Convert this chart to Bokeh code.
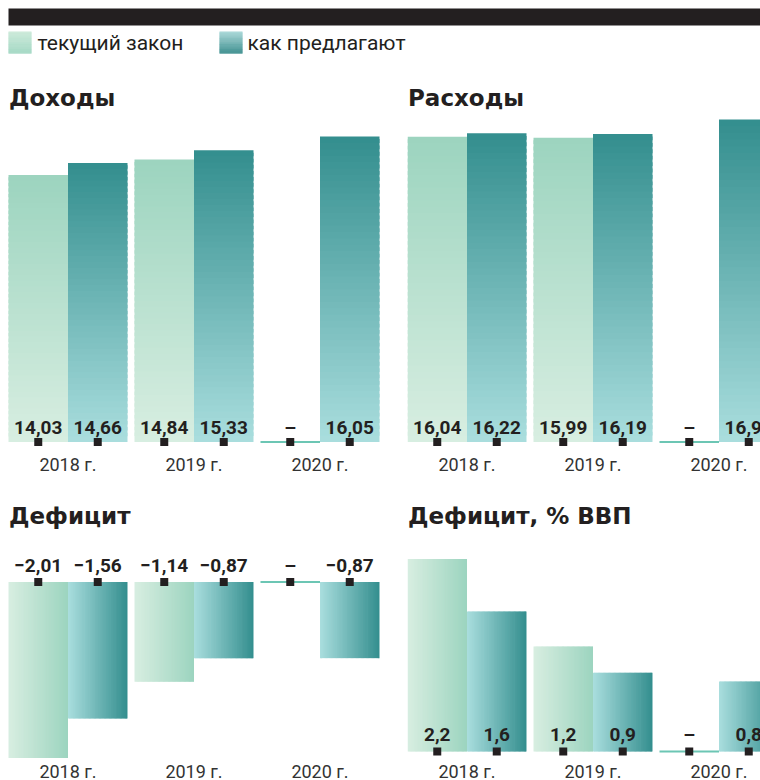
from bokeh.plotting import figure
from bokeh.models import Range1d
from bokeh.layouts import column, row
from bokeh.embed import file_html
from bokeh.resources import INLINE
from bokeh.core.properties import value

# ---------------- data ----------------
years = ["2018 г.", "2019 г.", "2020 г."]
legend_labels = ["текущий закон", "как предлагают"]
income_current = [14.03, 14.84, None]
income_proposed = [14.66, 15.33, 16.05]
spending_current = [16.04, 15.99, None]
spending_proposed = [16.22, 16.19, 16.95]
deficit_current = [-2.01, -1.14, None]
deficit_proposed = [-1.56, -0.87, -0.87]
deficit_gdp_current = [2.2, 1.2, None]
deficit_gdp_proposed = [1.6, 0.9, 0.8]

# ---------------- style ----------------
INK = "#231f20"
LIGHT = ("#d8eee1", "#9cd4bf")   # pale -> strong
DARK = ("#aadede", "#338e8e")
ZERO = "#6cc6b4"
N = 48
GROUP_PX = 126.0
HALF = 59.5 / GROUP_PX


def hex2rgb(c):
    c = c.lstrip("#")
    return tuple(int(c[i:i + 2], 16) for i in (0, 2, 4))


def mix(c0, c1, t):
    a, b = hex2rgb(c0), hex2rgb(c1)
    return "#%02x%02x%02x" % tuple(round(a[i] + (b[i] - a[i]) * t) for i in range(3))


def fmt(v, nd):
    if v is None:
        return "–"
    s = f"{abs(v):.{nd}f}".replace(".", ",")
    return ("−" + s) if v < 0 else s


def slices(lefts, vals, colors, orient):
    d = dict(left=[], right=[], bottom=[], top=[], color=[])
    for xl, v in zip(lefts, vals):
        if v is None:
            continue
        lo, hi = min(0.0, v), max(0.0, v)
        for k in range(N):
            t = (k + 0.5) / N
            e = min(k + 1.6, N) / N
            if orient == "v":
                a, b = v * k / N, v * e
                d["left"].append(xl); d["right"].append(xl + HALF)
                d["bottom"].append(min(a, b)); d["top"].append(max(a, b))
            else:
                d["left"].append(xl + HALF * k / N); d["right"].append(xl + HALF * e)
                d["bottom"].append(lo); d["top"].append(hi)
            d["color"].append(mix(colors[0], colors[1], t))
    return d


def panel(width, pad, height, zero_px, ppu, title, title_px, cur, prop, nd, orient,
          label_dy, year_dy):
    x0 = -HALF - pad / GROUP_PX
    x1 = x0 + width / GROUP_PX
    yt = zero_px / ppu
    yb = -(height - zero_px) / ppu
    p = figure(width=width, height=height, x_range=Range1d(x0, x1),
               y_range=Range1d(yb, yt), output_backend="svg",
               toolbar_location=None, min_border=0,
               x_axis_location=None, y_axis_location=None)
    p.outline_line_color = None
    p.grid.visible = False
    p.background_fill_color = "white"
    p.border_fill_color = "white"

    idx = list(range(len(years)))
    left_cur = [i - HALF for i in idx]
    left_prop = [float(i) for i in idx]
    p.quad(source=slices(left_cur, cur, LIGHT, orient), left="left", right="right",
           bottom="bottom", top="top", fill_color="color", line_color=None)
    p.quad(source=slices(left_prop, prop, DARK, orient), left="left", right="right",
           bottom="bottom", top="top", fill_color="color", line_color=None)

    miss = [i for i in idx if cur[i] is None]
    p.segment(x0=[i - HALF for i in miss], x1=[float(i) for i in miss],
              y0=[0] * len(miss), y1=[0] * len(miss), line_color=ZERO, line_width=2)

    cx = [i - HALF / 2 for i in idx] + [i + HALF / 2 for i in idx]
    labels = [fmt(v, nd) for v in cur] + [fmt(v, nd) for v in prop]
    p.text(x=cx, y=[0] * len(cx), text=labels, y_offset=label_dy,
           text_align="center", text_baseline="middle",
           text_font=value("Roboto"), text_font_style="bold",
           text_font_size=value("19px"), text_color=INK)
    p.scatter(x=cx, y=[0] * len(cx), marker="square", size=8,
              fill_color=INK, line_color=None)
    p.text(x=idx, y=[0] * len(idx), text=years, y_offset=year_dy,
           text_align="center", text_baseline="middle",
           text_font=value("Roboto"), text_font_size=value("18px"),
           text_color="#333333")
    p.text(x=[-HALF], y=[yt], text=[title], y_offset=title_px, x_offset=0.5,
           text_align="left", text_baseline="middle",
           text_font=value("DejaVu Sans"), text_font_style="bold",
           text_font_size=value("23px"), text_color=INK)
    return p


# ---------------- header ----------------
h = figure(width=760, height=60, x_range=Range1d(0, 760), y_range=Range1d(60, 0),
           output_backend="svg", toolbar_location=None, min_border=0,
           x_axis_location=None, y_axis_location=None)
h.outline_line_color = None
h.grid.visible = False
h.quad(left=[8], right=[760], top=[8], bottom=[25], fill_color=INK, line_color=None)


def legend_square(x, c_top, c_bot):
    d = dict(left=[], right=[], bottom=[], top=[], color=[])
    for k in range(N):
        t = (k + 0.5) / N
        d["left"].append(x); d["right"].append(x + 23)
        d["top"].append(31 + 22 * k / N); d["bottom"].append(31 + 22 * min(k + 1.6, N) / N)
        d["color"].append(mix(c_top, c_bot, t))
    h.quad(source=d, left="left", right="right", top="top", bottom="bottom",
           fill_color="color", line_color=None)


legend_square(8, "#c9e9d7", "#9cd4bf")
legend_square(219, "#a6d6d6", "#2f8686")
h.text(x=[37, 247], y=[42, 42], text=legend_labels, text_align="left",
       text_baseline="middle", text_font=value("Roboto"),
       text_font_size=value("21px"), text_color=INK)

# ---------------- panels ----------------
tl = panel(407, 8, 430, 381.5, 19.03, "Доходы", 37, income_current, income_proposed,
           2, "v", -15, 22)
tr = panel(353, 0, 430, 381.5, 19.03, "Расходы", 37, spending_current, spending_proposed,
           2, "v", -15, 22)
bl = panel(407, 8, 290, 91.5, 87.5, "Дефицит", 25.5, deficit_current, deficit_proposed,
           2, "h", -16.5, 189)
br = panel(353, 0, 290, 261, 87.5, "Дефицит, % ВВП", 25.5, deficit_gdp_current,
           deficit_gdp_proposed, 1, "h", -17, 19.5)

layout = column(h, row(tl, tr), row(bl, br))
open("out.html", "w").write(file_html(layout, INLINE))
